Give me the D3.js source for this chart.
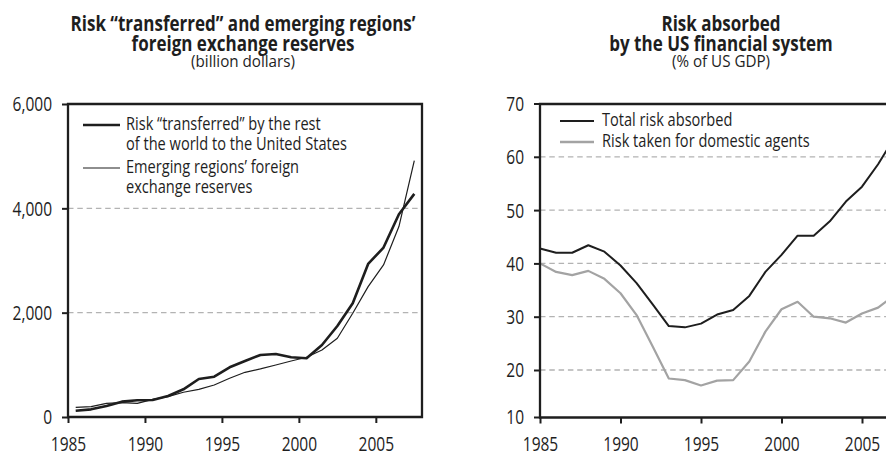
<!DOCTYPE html>
<html>
<head>
<meta charset="utf-8">
<script src="https://cdn.jsdelivr.net/npm/d3@7"></script>
<style>
  html, body { margin: 0; padding: 0; background: #fff; }
  svg { display: block; }
  text { font-family: "Open Sans", "DejaVu Sans", sans-serif; fill: #1e1e1e; }
</style>
</head>
<body>
<svg id="chart" width="886" height="457"></svg>
<script>
// ---- Left panel: billion dollars, annual figures ----
const leftYears = [1985, 1986, 1987, 1988, 1989, 1990, 1991, 1992, 1993, 1994, 1995, 1996,
                   1997, 1998, 1999, 2000, 2001, 2002, 2003, 2004, 2005, 2006, 2007];
const riskTransferred = [120, 147, 211, 294, 320, 326, 403, 531, 729, 773, 953, 1074,
                         1189, 1208, 1145, 1126, 1381, 1745, 2181, 2934, 3248, 3888, 4277];
const emergingReserves = [185, 198, 262, 275, 262, 339, 390, 474, 531, 614, 742, 857,
                          921, 997, 1074, 1145, 1285, 1509, 1989, 2499, 2915, 3650, 4916];
const leftYTicks = [0, 2000, 4000, 6000];
const leftXTicks = [1985, 1990, 1995, 2000, 2005];

// ---- Right panel: % of US GDP ----
const rightYears = [1985, 1986, 1987, 1988, 1989, 1990, 1991, 1992, 1993, 1994, 1995, 1996,
                    1997, 1998, 1999, 2000, 2001, 2002, 2003, 2004, 2005, 2006, 2007];
const totalRisk = [42.8, 42.0, 42.0, 43.4, 42.2, 39.6, 36.3, 32.3, 28.25, 28.0, 28.7, 30.4,
                   31.25, 33.9, 38.4, 41.6, 45.2, 45.2, 47.9, 51.6, 54.4, 58.6, 63.5];
const domesticRisk = [40.0, 38.4, 37.8, 38.6, 37.1, 34.4, 30.3, 24.4, 18.4, 18.1, 17.1, 18.0,
                      18.1, 21.6, 27.2, 31.4, 32.8, 30.0, 29.7, 28.9, 30.6, 31.7, 34.0];
const rightYTicks = [20, 30, 40, 50, 60, 70];
const rightFloorLabel = "10";
const rightXTicks = [1985, 1990, 1995, 2000, 2005];

const svg = d3.select("#chart");
const fmt = d3.format(",");

// ---- type styles: size, weight, and the width one sample line should occupy
// (the typeface is drawn horizontally condensed) ----
function measure(str, size, weight) {
  const t = svg.append("text").style("font-size", size + "px")
    .style("font-weight", weight).text(str);
  const w = t.node().getComputedTextLength();
  t.remove();
  return w;
}
function makeStyle(size, weight, sample, width) {
  return { size, weight, sx: width / measure(sample, size, weight) };
}
const TITLE = makeStyle(21.4, "bold", "Risk \u201ctransferred\u201d and emerging regions\u2019", 345);
const SUB = makeStyle(17, "normal", "(billion dollars)", 104);
const LEG = makeStyle(18.6, "normal", "of the world to the United States", 221);
const TICK = makeStyle(20.5, "normal", "2000", 35.5);

// multi-line text block: rows = [{text, y}]
function block(g, x, y, rows, st, anchor) {
  const t = g.append("text")
    .attr("transform", `translate(${x},${y}) scale(${st.sx},1)`)
    .attr("text-anchor", anchor || "start")
    .style("font-size", st.size + "px").style("font-weight", st.weight);
  rows.forEach(r => {
    t.append("tspan").attr("x", 0).attr("y", r.y).text(r.text);
  });
  return t;
}
// condense d3-axis tick labels in place
function squeezeTicks(ax, st) {
  ax.selectAll(".tick text").each(function () {
    const t = d3.select(this);
    const x = +t.attr("x") || 0, y = +t.attr("y") || 0;
    t.attr("x", 0).attr("y", 0)
      .attr("transform", `translate(${x},${y}) scale(${st.sx},1)`)
      .style("font-size", st.size + "px");
  });
}

// shared vertical layout
const plotTop = 104;
const xLabelBaseline = 451;

function title(cx, lines, sub) {
  block(svg, cx, 31, lines.map((t, i) => ({ text: t, y: i * 20 })), TITLE, "middle");
  block(svg, cx, 67, [{ text: sub, y: 0 }], SUB, "middle");
}

function gridLines(g, y, values, x0, x1) {
  g.append("g").selectAll("line").data(values).join("line")
    .attr("x1", x0).attr("x2", x1)
    .attr("y1", d => y(d)).attr("y2", d => y(d))
    .attr("stroke", "#b3b3b3").attr("stroke-width", 1.3)
    .attr("stroke-dasharray", "5.5,3.8");
}

function xAxis(g, x, floorY, ticks) {
  const ax = g.append("g").attr("transform", `translate(0,${floorY})`)
    .call(d3.axisBottom(x).tickValues(ticks).tickSize(6).tickPadding(0).tickFormat(d3.format("d")));
  ax.select(".domain").remove();
  ax.selectAll(".tick line").attr("stroke", "#1e1e1e").attr("stroke-width", 2);
  ax.selectAll(".tick text").attr("dy", null).attr("y", xLabelBaseline - floorY);
  squeezeTicks(ax, TICK);
}

function yAxis(g, y, x0, ticks, format) {
  const ax = g.append("g").attr("transform", `translate(${x0},0)`)
    .call(d3.axisLeft(y).tickValues(ticks).tickSize(6).tickPadding(0).tickFormat(format));
  ax.select(".domain").remove();
  ax.selectAll(".tick line").attr("stroke", "#1e1e1e").attr("stroke-width", 2);
  ax.selectAll(".tick text").attr("dy", "0.34em").attr("x", -16);
  squeezeTicks(ax, TICK);
  return ax;
}

function frame(g, x0, x1, y0, y1) {
  g.append("path")
    .attr("d", `M${x0},${y0}H${x1}V${y1}H${x0}Z`)
    .attr("fill", "none").attr("stroke", "#1e1e1e").attr("stroke-width", 2.3);
}

function legend(g, x0, entries) {
  entries.forEach(e => {
    g.append("line").attr("x1", x0).attr("x2", x0 + e.len)
      .attr("y1", e.y).attr("y2", e.y)
      .attr("stroke", e.color).attr("stroke-width", e.width);
    block(g, x0 + e.len + e.gap, e.base,
      e.lines.map((t, i) => ({ text: t, y: i * 20 })), LEG);
  });
}

// ================= Left panel =================
{
  const x0 = 68, x1 = 422, y1 = 417;
  const x = d3.scaleLinear().domain([1985, 2008]).range([x0, x1]);
  const y = d3.scaleLinear().domain([0, 6000]).range([y1, plotTop]);
  const g = svg.append("g");

  title(243, ["Risk \u201ctransferred\u201d and emerging regions\u2019", "foreign exchange reserves"], "(billion dollars)");
  gridLines(g, y, [2000, 4000], x0, x1);

  // annual figures plotted at mid-year
  const line = d3.line().x(d => x(d[0] + 0.5)).y(d => y(d[1]));
  g.append("path").datum(d3.zip(leftYears, emergingReserves))
    .attr("d", line).attr("fill", "none").attr("stroke", "#1e1e1e")
    .attr("stroke-width", 1.2).attr("stroke-linejoin", "round");
  g.append("path").datum(d3.zip(leftYears, riskTransferred))
    .attr("d", line).attr("fill", "none").attr("stroke", "#1e1e1e")
    .attr("stroke-width", 2.6).attr("stroke-linejoin", "round");

  frame(g, x0, x1, plotTop, y1);
  xAxis(g, x, y1, leftXTicks);
  yAxis(g, y, x0, leftYTicks, fmt);

  legend(g, 83, [
    { y: 125, base: 129.5, len: 37, gap: 6, color: "#1e1e1e", width: 2.6,
      lines: ["Risk \u201ctransferred\u201d by the rest", "of the world to the United States"] },
    { y: 168, base: 173, len: 37, gap: 6, color: "#1e1e1e", width: 1.2,
      lines: ["Emerging regions\u2019 foreign", "exchange reserves"] }
  ]);
}

// ================= Right panel =================
{
  const x0 = 540, floorY = 417.5;
  const x = d3.scaleLinear().domain([1985, 2008]).range([x0, x0 + 23 * 16.1]);
  const x1 = x(2008);
  const y = d3.scaleLinear().domain([20, 70]).range([370, 103.5]);
  const g = svg.append("g");

  title(721, ["Risk absorbed", "by the US financial system"], "(% of US GDP)");
  gridLines(g, y, [20, 30, 40, 50, 60], x0, x1);

  const line = d3.line().x(d => x(d[0])).y(d => y(d[1]));
  g.append("path").datum(d3.zip(rightYears, domesticRisk))
    .attr("d", line).attr("fill", "none").attr("stroke", "#a3a3a3")
    .attr("stroke-width", 2.2).attr("stroke-linejoin", "round");
  g.append("path").datum(d3.zip(rightYears, totalRisk))
    .attr("d", line).attr("fill", "none").attr("stroke", "#1e1e1e")
    .attr("stroke-width", 2).attr("stroke-linejoin", "round");

  frame(g, x0, x1, plotTop, floorY);
  xAxis(g, x, floorY, rightXTicks);
  const ax = yAxis(g, y, x0, rightYTicks, d3.format("d"));
  // axis floor label
  const floor = ax.append("g").attr("transform", `translate(0,${floorY})`);
  floor.append("line").attr("x2", -6).attr("stroke", "#1e1e1e").attr("stroke-width", 2);
  block(floor, -16, 0, [{ text: rightFloorLabel, y: 0 }], TICK, "end")
    .select("tspan").attr("dy", "0.34em");

  legend(g, 560, [
    { y: 121, base: 126, len: 34, gap: 8, color: "#1e1e1e", width: 2,
      lines: ["Total risk absorbed"] },
    { y: 142, base: 147, len: 34, gap: 8, color: "#a3a3a3", width: 2.6,
      lines: ["Risk taken for domestic agents"] }
  ]);
}
</script>
</body>
</html>
